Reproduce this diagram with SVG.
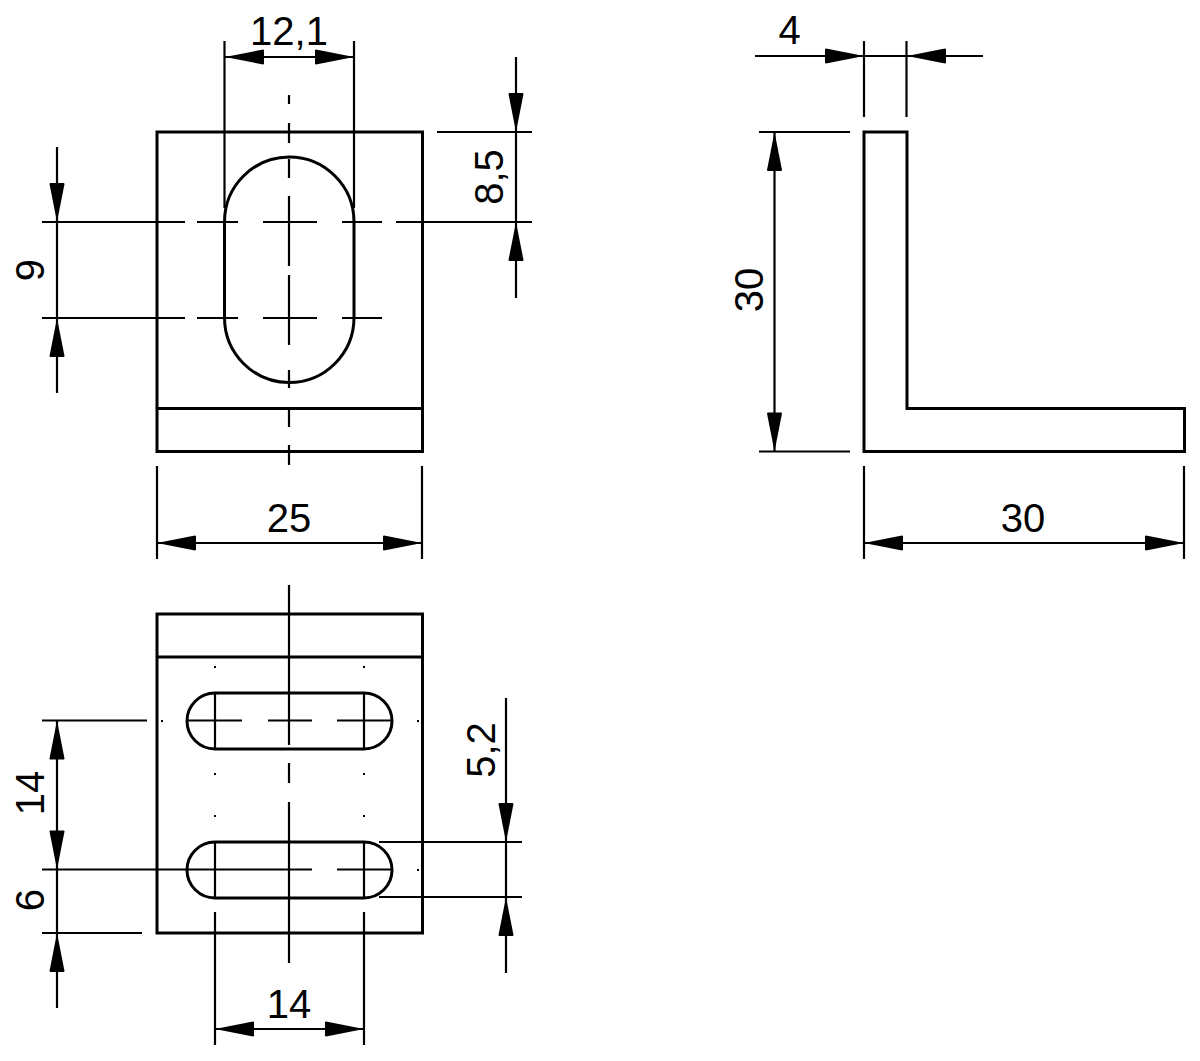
<svg xmlns="http://www.w3.org/2000/svg" xmlns:xlink="http://www.w3.org/1999/xlink" width="1200" height="1061" viewBox="0 0 1200 1061">
<style>
.o{fill:none;stroke:#000;stroke-width:3;stroke-linejoin:miter}
.d{fill:none;stroke:#000;stroke-width:2.200}
.p{fill:#000}
text{font-family:"Liberation Sans",Arial,sans-serif;font-size:40px;fill:#000;text-anchor:middle}
</style>
<defs><polygon id="a" points="0,0 38,-7.500 39,-7 39,7 38,7.500"/></defs>
<rect width="1200" height="1061" fill="#fff"/>
<g id="view-front">
<path class="o" d="M157 132H422.500V451.500H157ZM157 408.500H422.500"/>
<path class="o" d="M224.500 222A64.750 65 0 0 1 354 222V317.500A64.750 65 0 0 1 224.500 317.500Z"/>
<path class="d" d="M42 222H185M197 222H238M263 222H317M342 222H382M396 222H532M42 318H185M197 318H238M263 318H317M342 318H382"/>
<path class="d" d="M289 95V104M289 123V143M289 159V178M289 196V266M289 275V345M289 370V388M289 409V427M289 445V465"/>
</g>
<g id="view-side">
<path class="o" d="M864 132H907V408.500H1184.500V451.500H864Z"/>
</g>
<g id="view-bottom">
<path class="o" d="M157 614H422.500V933H157ZM157 657H422.500"/>
<path class="o" d="M215 693H364A28 28 0 0 1 364 749H215A28 28 0 0 1 215 693Z"/>
<path class="o" d="M215 842H364A28 28 0 0 1 364 898H215A28 28 0 0 1 215 842Z"/>
<path class="d" d="M215 693V749M364 693V749M215 842V898M364 842V898"/>
<path class="d" d="M187 720.500H242M268 720.500H312M337 720.500H393M42 869.500H312M337 869.500H392"/>
<path class="d" d="M289 585V745M289 763V783M289 802V963"/>
<g class="p">
<rect x="214" y="666" width="2" height="2"/><rect x="363" y="666" width="2" height="2"/>
<rect x="161" y="720" width="2" height="2"/><rect x="417" y="720" width="2" height="2"/>
<rect x="214" y="773" width="2" height="2"/><rect x="363" y="773" width="2" height="2"/>
<rect x="214" y="815" width="2" height="2"/><rect x="363" y="815" width="2" height="2"/>
<rect x="417" y="869" width="2" height="2"/>
</g>
</g>
<g id="connectors">
<path class="d" d="M224.500 41V208M354 41V208M224.500 57H354"/>
<path class="d" d="M516 57V298M437 132H532"/>
<path class="d" d="M57 147V393M42 222H57"/>
<path class="d" d="M157 466V559M422 466V559M157 543H422"/>
<path class="d" d="M755 56H983M864 41V117M906.500 41V117"/>
<path class="d" d="M774.500 132V451.500M759 132H850M759 451.500H850"/>
<path class="d" d="M864 466V559M1184 466V559M864 543H1184"/>
<path class="d" d="M57 720.500V1008M42 720.500H147M42 933H142"/>
<path class="d" d="M506 698V973M379 842H522M379 897H522"/>
<path class="d" d="M215 912V1045M364 912V1045M215 1029H364"/>
<use href="#a" transform="translate(225 57)"/>
<use href="#a" transform="translate(354 57) rotate(180)"/>
<use href="#a" transform="translate(516 132) rotate(-90)"/>
<use href="#a" transform="translate(516 222) rotate(90)"/>
<use href="#a" transform="translate(57 222) rotate(-90)"/>
<use href="#a" transform="translate(57 318) rotate(90)"/>
<use href="#a" transform="translate(157 543)"/>
<use href="#a" transform="translate(422 543) rotate(180)"/>
<use href="#a" transform="translate(864 56) rotate(180)"/>
<use href="#a" transform="translate(907 56)"/>
<use href="#a" transform="translate(774.500 132) rotate(90)"/>
<use href="#a" transform="translate(774.500 451.500) rotate(-90)"/>
<use href="#a" transform="translate(864 543)"/>
<use href="#a" transform="translate(1184 543) rotate(180)"/>
<use href="#a" transform="translate(57 720.500) rotate(90)"/>
<use href="#a" transform="translate(57 869.500) rotate(-90)"/>
<use href="#a" transform="translate(57 933) rotate(90)"/>
<use href="#a" transform="translate(506 842) rotate(-90)"/>
<use href="#a" transform="translate(506 897) rotate(90)"/>
<use href="#a" transform="translate(215 1029)"/>
<use href="#a" transform="translate(364 1029) rotate(180)"/>
</g>
<g id="labels">
<text x="289" y="45">12,1</text>
<text transform="translate(503 177) rotate(-90)">8,5</text>
<text transform="translate(44 270) rotate(-90)">9</text>
<text x="289" y="532">25</text>
<text x="789.500" y="44">4</text>
<text transform="translate(763 290) rotate(-90)">30</text>
<text x="1023" y="532">30</text>
<text transform="translate(44 793) rotate(-90)">14</text>
<text transform="translate(44 900) rotate(-90)">6</text>
<text transform="translate(495 750) rotate(-90)">5,2</text>
<text x="289" y="1018">14</text>
</g>
</svg>
